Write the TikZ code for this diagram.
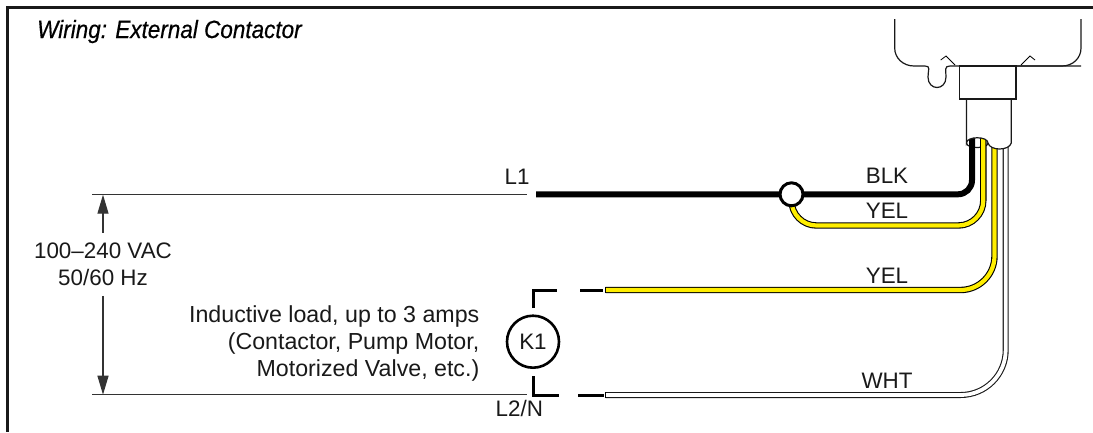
\documentclass[tikz,border=0pt]{standalone}
\usepackage{fontspec}
\setmainfont{Liberation Sans}
\newfontfamily\titlefont[FakeStretch=0.9,FakeBold=0.5]{Liberation Sans}
\usetikzlibrary{arrows.meta}
\definecolor{wireyellow}{HTML}{FFEE00}
\tikzset{
    label/.style={inner sep=0pt, font=\fontsize{22.4}{27}\selectfont, text=black!90},
    thinline/.style={line width=1.2pt, black!80},
    outline/.style={line width=1.2pt, black!90},
    hookline/.style={line width=3pt},
    yelwire/.style={line width=1.1pt, double=wireyellow, double distance=4.2pt},
    whtwire/.style={line width=1.1pt, double=white, double distance=3.8pt, black!90},
    dimarrow/.style={line width=1.2pt, black!80, -{Triangle[length=19pt,width=11pt]}}
}

\begin{document}
\begin{tikzpicture}[x=1pt,y=-1pt]
            \useasboundingbox (0,0) rectangle (1093,432);
            \draw[line width=3pt, black!90] (1093,7.3) -- (7,7.3) -- (7,432);

            \node[inner sep=0pt, anchor=base west, font=\titlefont\fontsize{25}{30}\selectfont\itshape] (title) at (37,38) {Wiring: External Contactor};

            \coordinate (ltopa) at (92,194.7);
            \coordinate (ltopb) at (527,194.7);
            \coordinate (lbota) at (92,394.7);
            \coordinate (lbotb) at (527,394.7);
            \coordinate (junc) at (791.5,194.3);
            \draw[thinline] (ltopa) -- (ltopb);
            \draw[thinline] (lbota) -- (lbotb);

            \node[label, align=center, minimum height=63pt] (vac) at (103,264.2) {100--240 VAC\\50/60 Hz};
            \draw[dimarrow] (vac.north) -- (vac.north |- ltopa);
            \draw[dimarrow] (vac.south) -- (vac.south |- lbota);

            \node[label, anchor=base east, align=right, font=\fontsize{23.2}{27}\selectfont] (load) at (479.5,376) {Inductive load, up to 3 amps\\(Contactor, Pump Motor,\\Motorized Valve, etc.)};
            \node[label, anchor=base] (lone) at (517,184) {L1};
            \node[label, anchor=base west] (ltwo) at (495.5,416.7) {L2/N};
            \node[label, anchor=base] (blk) at (887,183) {BLK};
            \node[label, anchor=base] (yelone) at (887,218.5) {YEL};
            \node[label, anchor=base] (yeltwo) at (887,283) {YEL};
            \node[label, anchor=base] (wht) at (887,388) {WHT};

            \draw[outline] (894.7,19) -- (894.7,48) .. controls (894.7,58) and (903,66) .. (914,66) -- (925,66) .. controls (931,66) and (928,70) .. (928,77) .. controls (928,91) and (946,91) .. (946,77) .. controls (946,70) and (944,66) .. (950,66) -- (1081,66);
            \draw[outline] (1081,19) -- (1081,48) .. controls (1081,58) and (1073,66) .. (1062,66) -- (1016,66);
            \draw[line width=0.8pt] (940.7,60) -- (946,56) -- (955,65);
            \draw[line width=0.8pt] (1021,65) -- (1030,56) -- (1035,60);

            \draw[outline] (966.5,143) .. controls (966.5,149) and (988,149) .. (988,143);

            \draw[line width=6pt, line join=round, rounded corners=14pt] (536,194.3) -- (972,194.3) -- (972,135);
            \draw[yelwire, rounded corners=25pt] (junc) -- (791.5,225.5) -- (983.3,225.5) -- (983.3,135);
            \draw[yelwire, rounded corners=34pt] (605.5,290) -- (994.5,290) -- (994.5,145);
            \draw[whtwire, rounded corners=45pt] (605.5,395) -- (1005.7,395) -- (1005.7,145);
            \draw[line width=1.2pt] (605.5,286.9) -- (605.5,293.1);
            \draw[line width=1.2pt] (605.5,391.9) -- (605.5,398.1);

            \draw[outline, fill=white] (966.5,99) -- (966.5,143) .. controls (966.5,136) and (988,136) .. (988,143) .. controls (990,151) and (1009,151) .. (1011.3,143) -- (1011.3,99);
            \draw[outline, fill=white] (959.5,66) rectangle (1016,99);

            \node[draw, circle, fill=white, line width=3pt, minimum size=23pt, inner sep=0pt] (ring) at (junc) {};

            \node[draw, circle, line width=2.6pt, minimum size=52pt, inner sep=0pt, font=\fontsize{22.4}{27}\selectfont, text=black!90] (kone) at (533,341.7) {K1};
            \coordinate (hooka) at (533,308);
            \coordinate (hookb) at (533,376);
            \draw[hookline] (hooka) -- (533,290) -- (557,290);
            \draw[hookline] (580,290) -- (603,290);
            \draw[hookline] (hookb) -- (533,395) -- (559,395);
            \draw[hookline] (578,395) -- (604,395);
        \end{tikzpicture}
\end{document}
